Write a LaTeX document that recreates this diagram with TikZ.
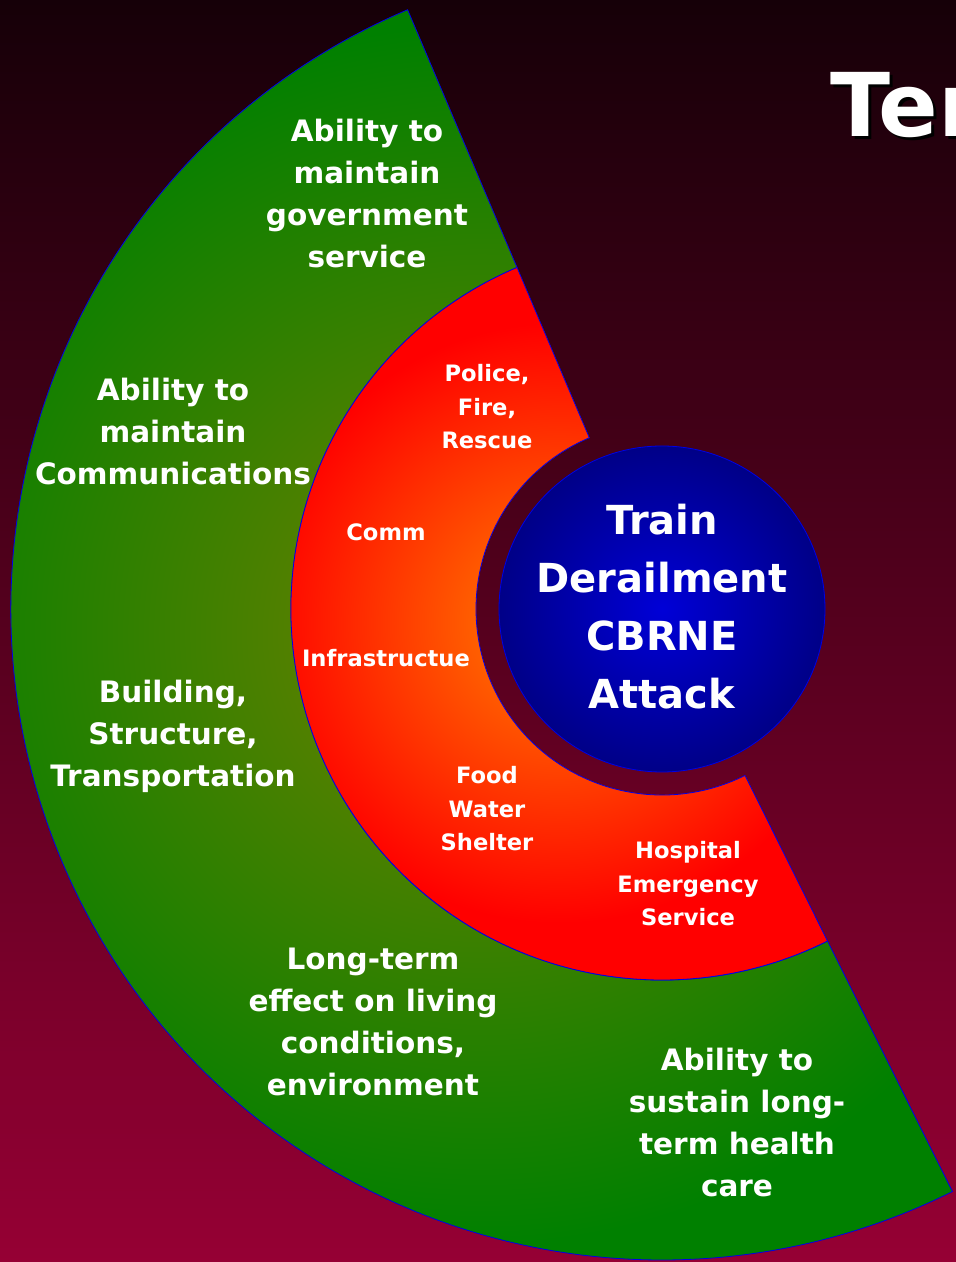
\documentclass[tikz,border=0pt]{standalone}
\usepackage{fontspec}
\newfontfamily\slidefont{DejaVu Sans}
\definecolor{bgtop}{RGB}{22,0,8}
\definecolor{bgbottom}{RGB}{150,0,52}
\definecolor{edgeblue}{RGB}{0,0,230}
\definecolor{leafgreen}{RGB}{0,128,0}
\definecolor{olivemid}{RGB}{118,128,0}
\definecolor{hotorange}{RGB}{255,130,0}
\definecolor{hotred}{RGB}{255,0,0}
\definecolor{coreblue}{RGB}{0,0,215}
\definecolor{corenavy}{RGB}{0,0,100}

\begin{document}
\begin{tikzpicture}[x=1pt,y=1pt,
	outertxt/.style={font=\slidefont\bfseries\fontsize{29.5}{42}\selectfont, text=white, align=center},
	innertxt/.style={font=\slidefont\bfseries\fontsize{22.6}{33.5}\selectfont, text=white, align=center},
	coretxt/.style={font=\slidefont\bfseries\fontsize{40}{58}\selectfont, text=white, align=center},
	titletxt/.style={font=\slidefont\bfseries\fontsize{88}{100}\selectfont, anchor=base west},
	rim/.style={draw=edgeblue, line width=0.8pt}]
			\useasboundingbox (0,0) rectangle (956,1262);
			\shade [top color=bgtop, bottom color=bgbottom] (0,0) rectangle (956,1262);
			%\draw [help lines, step=50] (0,0) grid (956,1262);
			\begin{scope}[shift={(662,653)}]
				% outer band
				\begin{scope}
					\clip (113:371) -- (113:651) arc [start angle=113, end angle=296.5, radius=651] -- (296.5:371) arc [start angle=296.5, end angle=113, radius=371] -- cycle;
					\fill [leafgreen] (-700,-700) rectangle (700,700);
					\shade [inner color=olivemid, outer color=leafgreen] (-180,-25) circle (610);
				\end{scope}
				\draw [rim] (113:371) -- (113:651) arc [start angle=113, end angle=296.5, radius=651] -- (296.5:371) arc [start angle=296.5, end angle=113, radius=371] -- cycle;
				% inner band
				\begin{scope}
					\clip (113:186) -- (113:371) arc [start angle=113, end angle=296.5, radius=371] -- (296.5:186) arc [start angle=296.5, end angle=113, radius=186] -- cycle;
					\fill [hotred] (-400,-400) rectangle (400,400);
					\shade [inner color=hotorange, outer color=hotred] (-103,-14) circle (300);
				\end{scope}
				\draw [rim] (113:186) -- (113:371) arc [start angle=113, end angle=296.5, radius=371] -- (296.5:186) arc [start angle=296.5, end angle=113, radius=186] -- cycle;
				% core
				\begin{scope}
					\clip (0,0) circle (163);
					\fill [corenavy] (-170,-170) rectangle (170,170);
					\shade [inner color=coreblue, outer color=corenavy] (0,0) circle (235);
				\end{scope}
				\draw [rim] (0,0) circle (163);
			\end{scope}
			\node [outertxt] (govt) at (367,1068) {Ability to\\maintain\\government\\service};
			\node [outertxt] (comms) at (173,830) {Ability to\\maintain\\Communications};
			\node [outertxt] (build) at (173,525.5) {Building,\\Structure,\\Transportation};
			\node [outertxt] (living) at (373,240) {Long-term\\effect on living\\conditions,\\environment};
			\node [outertxt] (health) at (737,139) {Ability to\\sustain long-\\term health\\care};
			\node [innertxt] (police) at (487,855) {Police,\\Fire,\\Rescue};
			\node [innertxt] (comm) at (386,730) {Comm};
			\node [innertxt] (infra) at (386,604) {Infrastructue};
			\node [innertxt] (food) at (487,453) {Food\\Water\\Shelter};
			\node [innertxt] (hosp) at (688,378) {Hospital\\Emergency\\Service};
			\node [coretxt] (attack) at (662,655) {Train\\Derailment\\CBRNE\\Attack};
			\node [titletxt, text=black] (titleshade) at (830,1122) {Ter};
			\node [titletxt, text=white] (title) at (827,1125) {Ter};
	\end{tikzpicture}
\end{document}
